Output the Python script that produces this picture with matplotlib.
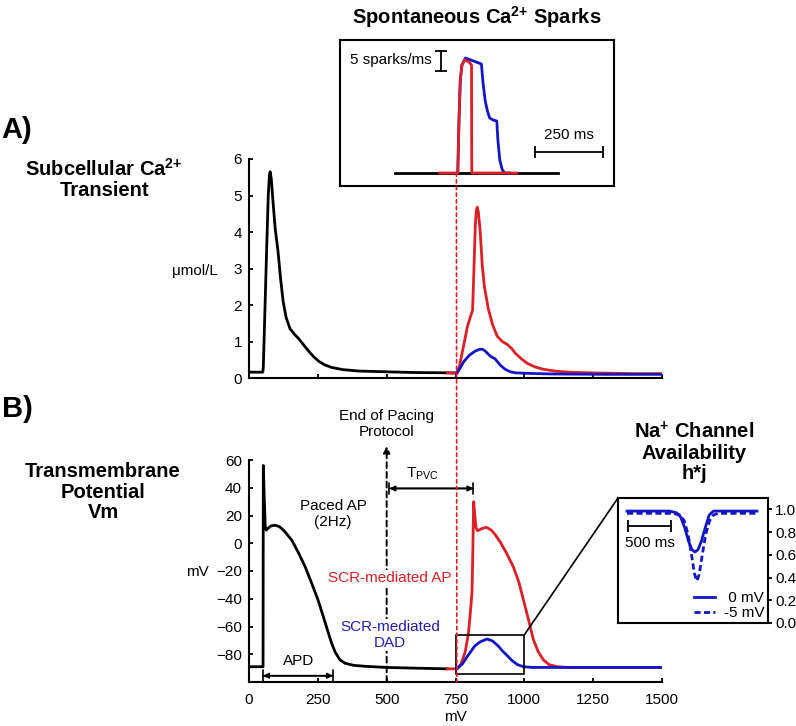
import matplotlib
matplotlib.use('Agg')
import matplotlib.pyplot as plt
from matplotlib.patches import Rectangle, ConnectionPatch

plt.rcParams['font.family'] = ['Liberation Sans', 'DejaVu Sans']
plt.rcParams['mathtext.fontset'] = 'custom'
plt.rcParams['mathtext.rm'] = 'Liberation Sans'
plt.rcParams['mathtext.it'] = 'Liberation Sans:italic'
plt.rcParams['mathtext.bf'] = 'Liberation Sans:bold'

RED = '#dd1f26'
BLUE = '#1515c8'

# ---- Panel A: subcellular Ca transient (umol/L vs ms)
ca_t = [0, 50, 52, 58, 64, 70, 74, 77, 81, 87, 95, 105, 115, 124, 135, 149, 165, 180, 197,
        215, 235, 255, 275, 300, 340, 400, 500, 600, 750]
ca_v = [0.16, 0.16, 0.3, 1.9, 3.5, 5.0, 5.55, 5.65, 5.45, 4.85, 4.1, 3.5, 2.7, 2.1, 1.65,
        1.35, 1.2, 1.08, 0.92, 0.75, 0.58, 0.45, 0.36, 0.29, 0.23, 0.19, 0.17, 0.15, 0.14]
ca_ap_t = [720, 755, 765, 780, 793, 805, 812, 817, 822, 826, 829, 833, 840, 847, 855, 869,
           885, 902, 920, 938, 955, 967, 990, 1011, 1040, 1069, 1110, 1160, 1250, 1400, 1500]
ca_ap_v = [0.14, 0.13, 0.35, 0.9, 1.4, 1.7, 1.85, 3.0, 4.2, 4.6, 4.68, 4.55, 4.0, 3.1, 2.5,
           1.9, 1.45, 1.14, 1.0, 0.92, 0.8, 0.68, 0.52, 0.4, 0.3, 0.24, 0.19, 0.16, 0.14,
           0.12, 0.12]
ca_dad_t = [755, 765, 780, 800, 820, 835, 847, 858, 868, 880, 893, 902, 913, 930, 949, 970,
            1000, 1100, 1300, 1500]
ca_dad_v = [0.13, 0.25, 0.45, 0.62, 0.73, 0.78, 0.79, 0.74, 0.66, 0.58, 0.53, 0.45, 0.35,
            0.24, 0.17, 0.14, 0.13, 0.11, 0.1, 0.1]

# ---- Spark inset (sparks/ms vs ms)
sp_base_t = [531, 1124]
sp_base_v = [0, 0]
sp_ap_t = [695, 760, 764, 769, 775, 785, 800, 810, 811, 975]
sp_ap_v = [0, 0, 12, 23, 27, 28.25, 27.8, 27, 0, 0]
sp_dad_t = [760, 764, 769, 775, 788, 846, 852, 860, 868, 876, 890, 902, 906, 913, 922, 931, 949]
sp_dad_v = [0, 12, 23, 27, 28.75, 27.25, 22.5, 18, 15.5, 13.75, 13.2, 13, 8.25, 3.25, 0.8, 0, 0]

# ---- Panel B: membrane potential (mV vs ms)
ap_t = [0, 50, 51, 52, 55, 59, 63, 70, 80, 95, 110, 125, 140, 156, 180, 204, 228, 251, 270,
        288, 300, 313, 330, 349, 380, 422, 500, 600, 720]
ap_v = [-89, -89, -89, 56, 35, 12, 9.5, 11, 12.5, 13, 12, 9.5, 6, 2, -7, -17, -29, -41, -53,
        -64.5, -72, -78.5, -84, -86.5, -88, -88.7, -89.5, -90, -90.5]
scr_t = [720, 755, 770, 785, 797, 804, 810, 813, 816, 820, 825, 830, 845, 862, 880, 895, 913,
         935, 960, 980, 997, 1015, 1033, 1050, 1069, 1090, 1120, 1160, 1250, 1500]
scr_v = [-90.5, -90.5, -87, -78.5, -65, -50, -35, -5, 30, 20, 11, 9, 10.5, 11.5, 9.5, 6, 0.7,
         -7, -17, -28, -41, -55, -69.5, -78, -84, -87.5, -89, -89.5, -89.5, -89.5]
dad_t = [755, 775, 790, 804, 820, 840, 865, 885, 905, 920, 938, 955, 975, 997, 1030, 1100, 1500]
dad_v = [-90.5, -87, -82.5, -78.5, -74, -71, -69, -70.5, -74, -77.5, -81, -84.5, -87.5, -89,
         -89.5, -89.5, -89.5]

# ---- Na channel availability inset (h*j vs ms)
na0_t = [105, 600, 680, 730, 775, 820, 860, 895, 930, 970, 1015, 1060, 1110, 1616]
na0_v = [0.985, 0.985, 0.97, 0.93, 0.84, 0.72, 0.645, 0.625, 0.645, 0.72, 0.84, 0.95, 0.985,
         0.985]
na5_t = [105, 640, 720, 770, 815, 855, 890, 917, 945, 980, 1020, 1065, 1110, 1160, 1616]
na5_v = [0.965, 0.965, 0.95, 0.9, 0.78, 0.6, 0.43, 0.37, 0.43, 0.6, 0.78, 0.9, 0.95, 0.965,
         0.965]

time_ticks = [0, 250, 500, 750, 1000, 1250, 1500]
ca_ticks = [0, 1, 2, 3, 4, 5, 6]
vm_ticks = [-80, -60, -40, -20, 0, 20, 40, 60]
na_ticks = [0.0, 0.2, 0.4, 0.6, 0.8, 1.0]

pacing_end = 500
scr_onset = 755
apd_end = 305
pvc_time = 815

W, H = 796, 726
fig = plt.figure(figsize=(W / 100, H / 100), dpi=100)


def box(x0, y0, x1, y1):
    # pixel box (top-left origin) -> figure fraction rect
    return [x0 / W, 1 - y1 / H, (x1 - x0) / W, (y1 - y0) / H]


def style_axes(ax):
    for s in ['top', 'right']:
        ax.spines[s].set_visible(False)
    for s in ['left', 'bottom']:
        ax.spines[s].set_linewidth(1.5)
    ax.tick_params(direction='in', length=3, width=1.3, labelsize=11, pad=5)


lw = 2.0

# Panel A
ax_a = fig.add_axes(box(249, 159, 662, 378))
ax_a.plot(ca_t, ca_v, color='black', lw=lw)
ax_a.plot(ca_ap_t, ca_ap_v, color=RED, lw=lw)
ax_a.plot(ca_dad_t, ca_dad_v, color=BLUE, lw=lw)
ax_a.set_xlim(0, 1500)
ax_a.set_ylim(0, 6)
ax_a.set_xticks(time_ticks)
ax_a.set_xticklabels([])
ax_a.set_yticks(ca_ticks)
style_axes(ax_a)
ax_a.set_ylabel('μmol/L', rotation=0, fontsize=11, va='center', ha='center')
ax_a.yaxis.set_label_coords(-0.13, 0.49)

# Panel B
ax_b = fig.add_axes(box(249, 460, 662, 682))
ax_b.plot(ap_t, ap_v, color='black', lw=lw)
ax_b.plot(scr_t, scr_v, color=RED, lw=lw)
ax_b.plot(dad_t, dad_v, color=BLUE, lw=lw)
ax_b.set_xlim(0, 1500)
ax_b.set_ylim(-100, 60)
ax_b.set_xticks(time_ticks)
ax_b.set_yticks(vm_ticks)
style_axes(ax_b)
ax_b.tick_params(axis='x', pad=8)
ax_b.set_xlabel('mV', fontsize=11, labelpad=2)
ax_b.set_ylabel('mV', rotation=0, fontsize=11, va='center', ha='center')
ax_b.yaxis.set_label_coords(-0.126, 0.495)

# end of pacing dashed arrow
ax_b.annotate('', xy=(pacing_end, 70), xytext=(pacing_end, -100), annotation_clip=False,
              arrowprops=dict(arrowstyle='-|>', color='black', lw=1.4, ls=(0, (3, 2)),
                              shrinkA=0, shrinkB=0, mutation_scale=10), zorder=2)
ax_b.text(pacing_end, 86, 'End of Pacing\nProtocol', ha='center', va='center', fontsize=11,
          clip_on=False, linespacing=1.15)
ax_b.text(305, 21, 'Paced AP\n(2Hz)', ha='center', va='center', fontsize=11, linespacing=1.15)
ax_b.text(513, -25, 'SCR-mediated AP', ha='center', va='center', fontsize=11, color=RED,
          zorder=4, bbox=dict(fc='white', ec='none', pad=1))
ax_b.text(513, -66, 'SCR-mediated\nDAD', ha='center', va='center', fontsize=11, color='#2020b0',
          zorder=4, linespacing=1.15, bbox=dict(fc='white', ec='none', pad=1))


def span_arrow(ax, x0, x1, y):
    ax.annotate('', xy=(x1, y), xytext=(x0, y),
                arrowprops=dict(arrowstyle='<|-|>', color='black', lw=1.2, shrinkA=0,
                                shrinkB=0, mutation_scale=8))
    ax.annotate('', xy=(x1, y), xytext=(x0, y),
                arrowprops=dict(arrowstyle='|-|', color='black', lw=1.2, shrinkA=0,
                                shrinkB=0, mutation_scale=4))


span_arrow(ax_b, 51, apd_end, -95.5)
ax_b.text(180, -85, 'APD', ha='center', va='center', fontsize=11)
span_arrow(ax_b, 510, pvc_time, 39.5)
ax_b.text(630, 50, r'T$_{\mathrm{PVC}}$', ha='center', va='center', fontsize=11)

# zoom rectangle
ax_b.add_patch(Rectangle((scr_onset - 3, -94), 1000 - scr_onset + 3, 28, fill=False,
                         ec='black', lw=1.2, zorder=5))

# Spark inset
ax_s = fig.add_axes(box(340, 40, 614, 186))
ax_s.plot(sp_base_t, sp_base_v, color='black', lw=lw)
ax_s.plot(sp_dad_t, sp_dad_v, color=BLUE, lw=lw)
ax_s.plot(sp_ap_t, sp_ap_v, color=RED, lw=lw)
ax_s.set_xlim((340 - 249) / 0.2747, (614 - 249) / 0.2747)
ax_s.set_ylim(-3.25, 33.25)
ax_s.set_xticks([])
ax_s.set_yticks([])
for s in ax_s.spines.values():
    s.set_linewidth(1.5)
ax_s.plot([1040, 1290], [5.25, 5.25], color='black', lw=1.3, marker='|', markersize=8,
          markeredgewidth=1.3)
ax_s.text(1165, 9.5, '250 ms', ha='center', va='center', fontsize=11)
ax_s.plot([699, 699], [25.5, 30.5], color='black', lw=1.3, marker='_', markersize=8,
          markeredgewidth=1.3)
ax_s.text(666, 28.2, '5 sparks/ms', ha='right', va='center', fontsize=11)

# Na inset
ax_n = fig.add_axes(box(618, 498, 768, 623))
ax_n.plot(na0_t, na0_v, color=BLUE, lw=lw, label=' 0 mV')
ax_n.plot(na5_t, na5_v, color=BLUE, lw=lw, ls=(0, (2.2, 1.2)), label='-5 mV')
ax_n.set_xlim(0, 150 / 0.086)
ax_n.set_ylim(0, 1.1)
ax_n.set_xticks([])
ax_n.yaxis.tick_right()
ax_n.set_yticks(na_ticks)
ax_n.set_yticklabels(['%.1f' % v for v in na_ticks])
ax_n.tick_params(direction='out', length=3, width=1.3, labelsize=11, pad=2)
for s in ax_n.spines.values():
    s.set_linewidth(1.5)
ax_n.plot([116, 616], [0.857, 0.857], color='black', lw=1.3, marker='|', markersize=8,
          markeredgewidth=1.3)
ax_n.text(366, 0.70, '500 ms', ha='center', va='center', fontsize=11)
ax_n.legend(loc='lower right', frameon=False, fontsize=11, handlelength=1.4,
            handletextpad=0.6, labelspacing=0.05, borderaxespad=0.1, borderpad=0.1)

# connectors
fig.add_artist(ConnectionPatch(xyA=(scr_onset, 0), coordsA=ax_s.transData,
                               xyB=(scr_onset, -100), coordsB=ax_b.transData,
                               color=RED, lw=1.2, ls=(0, (2, 2))))
fig.add_artist(ConnectionPatch(xyA=(1000, -66), coordsA=ax_b.transData,
                               xyB=(0, 1), coordsB=ax_n.transAxes, color='black', lw=1.2))

# titles
bold = dict(fontsize=14.5, fontweight='bold', ha='center', va='center')
fig.text(477 / W, 1 - 17 / H, r'Spontaneous Ca$^{\mathbf{2{+}}}$ Sparks', **bold)
fig.text(104 / W, 1 - 179 / H, 'Subcellular Ca$^{\\mathbf{2{+}}}$\nTransient', linespacing=1.1,
         **bold)
fig.text(103 / W, 1 - 492 / H, 'Transmembrane\nPotential\nVm', linespacing=1.1, **bold)
fig.text(694 / W, 1 - 452 / H, 'Na$^{\\mathbf{{+}}}$ Channel\nAvailability\nh*j',
         linespacing=1.1, **bold)
fig.text(0.002, 1 - 130 / H, 'A)', fontsize=21, fontweight='bold', ha='left', va='center')
fig.text(0.002, 1 - 409 / H, 'B)', fontsize=21, fontweight='bold', ha='left', va='center')

fig.savefig('out.png', dpi=100)
